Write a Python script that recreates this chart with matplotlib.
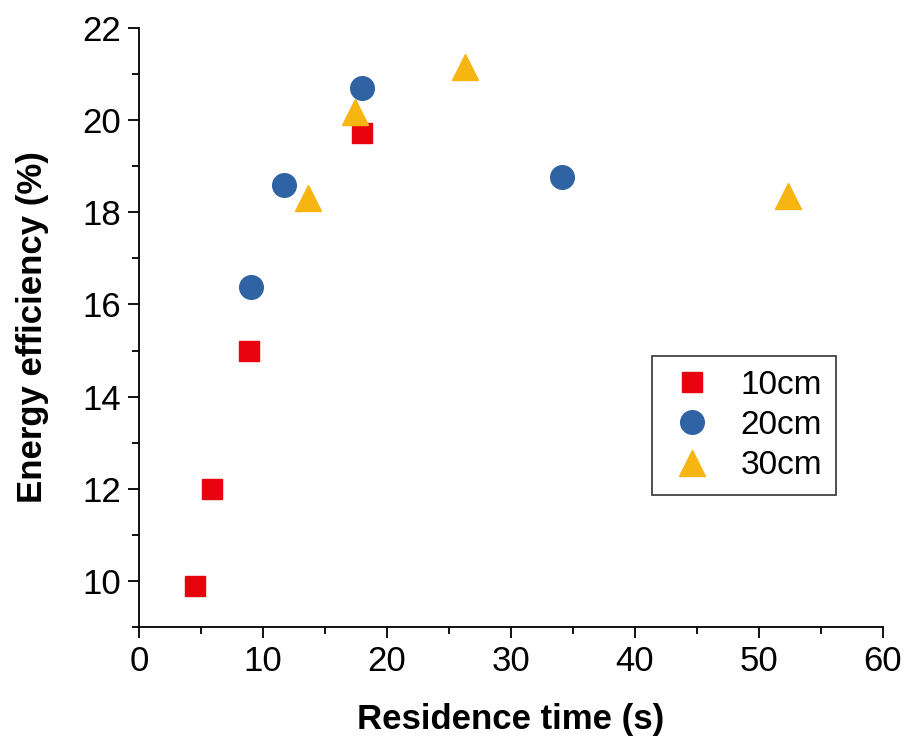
import matplotlib
matplotlib.use("Agg")
import matplotlib.pyplot as plt
from matplotlib.ticker import MultipleLocator

plt.rcParams["font.family"] = ["Liberation Sans", "DejaVu Sans"]

# residence time (s) and energy efficiency (%) per electrode gap
x_10cm = [4.5, 5.9, 8.9, 18.0]
y_10cm = [9.9, 12.0, 15.0, 19.72]

x_20cm = [9.0, 11.7, 18.0, 34.1]
y_20cm = [16.37, 18.6, 20.7, 18.76]

x_30cm = [13.6, 17.4, 26.3, 52.3]
y_30cm = [18.3, 20.17, 21.15, 18.35]

labels = ["10cm", "20cm", "30cm"]

fig = plt.figure(figsize=(9.07, 7.39), dpi=100)
ax = fig.add_axes([139 / 907, 1 - 627 / 739, (883 - 139) / 907, (627 - 28) / 739])

ax.plot(x_10cm, y_10cm, ls="none", marker="s", ms=14.5, color="#e8040f", label=labels[0])
ax.plot(x_20cm, y_20cm, ls="none", marker="o", ms=17, color="#2f63a3", label=labels[1])
ax.plot(x_30cm, y_30cm, ls="none", marker="^", ms=19, color="#f7b512", label=labels[2])

ax.set_xlim(0, 60)
ax.set_ylim(9, 22)
ax.xaxis.set_major_locator(MultipleLocator(10))
ax.xaxis.set_minor_locator(MultipleLocator(5))
ax.yaxis.set_minor_locator(MultipleLocator(1))
ax.set_yticks([10, 12, 14, 16, 18, 20, 22])

for s in ["top", "right"]:
    ax.spines[s].set_visible(False)
for s in ["left", "bottom"]:
    ax.spines[s].set_linewidth(1.3)

ax.tick_params(which="major", direction="out", length=8, width=1.3, labelsize=25, pad=5)
ax.tick_params(which="minor", direction="out", length=5, width=1.3)

ax.set_xlabel("Residence time (s)", fontsize=25, fontweight="bold", labelpad=18)
ax.set_ylabel("Energy efficiency (%)", fontsize=25, fontweight="bold", labelpad=24)

leg = ax.legend(loc="upper left", bbox_to_anchor=(0.69, 0.452), borderaxespad=0,
                fontsize=24, frameon=True, fancybox=False, edgecolor="black",
                handletextpad=0.65, borderpad=0.4, labelspacing=0.28, handlelength=1.6)
leg.get_frame().set_linewidth(1.2)

fig.savefig("out.png", dpi=100)
